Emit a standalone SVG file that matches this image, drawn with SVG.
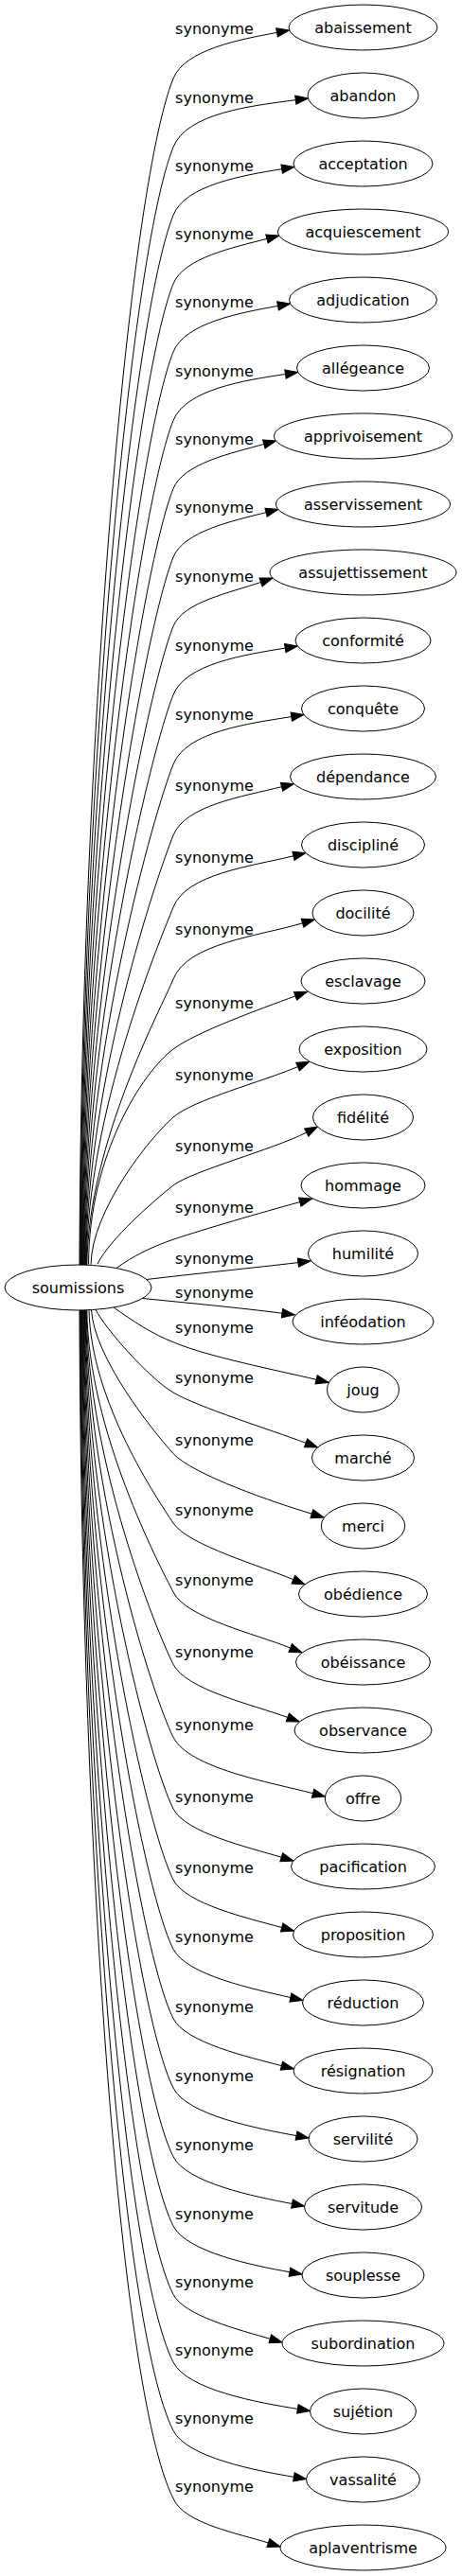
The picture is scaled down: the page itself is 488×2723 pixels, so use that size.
<svg xmlns="http://www.w3.org/2000/svg" width="488" height="2723" viewBox="0 0 488 2723">
<style>
text{font-family:"DejaVu Sans",Verdana,sans-serif;font-size:16px;text-anchor:middle;fill:#000}
.node ellipse{fill:#fff;stroke:#000;stroke-width:1}
.edge path{fill:none;stroke:#000;stroke-width:1;marker-end:url(#ah)}
</style>
<defs>
<marker id="ah" markerUnits="userSpaceOnUse" markerWidth="16" markerHeight="12" refX="0" refY="5" orient="auto" overflow="visible">
<path d="M0,0.33 L13.3,5 L0,9.67 Z" fill="#000" stroke="#000" stroke-width="1"/>
</marker>
</defs>
<rect width="488" height="2723" fill="#fff"/>
<g id="edges">
<g class="edge"><path d="M84,1337 C85.5,797.8 134.6,204 183,83 C195.2,52.6 252.7,41.8 292.5,34.4"/><text x="226.5" y="36">synonyme</text></g>
<g class="edge"><path d="M84.6,1337 C86.1,829 137.4,269.5 183,155.5 C197.4,119.6 264.9,111.9 312.3,105.7"/><text x="226.5" y="108.5">synonyme</text></g>
<g class="edge"><path d="M85.2,1337 C86.7,860 140.2,334.6 183,227.5 C195.7,195.6 255.9,185.5 297.7,178.65"/><text x="226.5" y="180.5">synonyme</text></g>
<g class="edge"><path d="M85.8,1337 C87.3,891.1 143,400.1 183,300 C194,272.5 246.5,261.6 281.9,252.4"/><text x="226.5" y="253">synonyme</text></g>
<g class="edge"><path d="M86.4,1337 C87.9,922 145.8,465.1 183,372 C195.3,341.3 253.2,330.7 293.5,323.4"/><text x="226.5" y="325">synonyme</text></g>
<g class="edge"><path d="M87,1337 C88.5,953.2 148.5,530.6 183,444.5 C196.2,411.6 258.2,402 301.5,395.5"/><text x="226.5" y="397.5">synonyme</text></g>
<g class="edge"><path d="M87.6,1337 C89.1,984.2 151.3,595.7 183,516.5 C193.6,489.9 244.7,478.9 278.8,469.5"/><text x="226.5" y="469.5">synonyme</text></g>
<g class="edge"><path d="M88.2,1337 C89.7,1015.4 154.1,661.2 183,589 C193.9,561.7 245.85,550.5 281.05,541.7"/><text x="226.5" y="542">synonyme</text></g>
<g class="edge"><path d="M88.8,1337 C90.3,1046.7 156.9,727.1 183,662 C193.3,636.3 243.2,626.6 275.5,615.4"/><text x="226.5" y="615">synonyme</text></g>
<g class="edge"><path d="M89.4,1337 C90.9,1078 159.7,792.6 183,734.5 C196.1,701.6 258.1,692.1 301.2,685.1"/><text x="226.5" y="687.5">synonyme</text></g>
<g class="edge"><path d="M90,1337 C91.5,1109.5 162.6,859 183,808 C196.85,773.3 262.2,764.9 307.8,757.6"/><text x="226.5" y="761">synonyme</text></g>
<g class="edge"><path d="M90.6,1337 C92.1,1141.8 165.5,926.8 183,883 C195.7,851.2 256.4,841.9 297.5,831.7"/><text x="226.5" y="836">synonyme</text></g>
<g class="edge"><path d="M91.2,1337 C92.7,1174.5 168.4,995.5 183,959 C197.1,923.7 264.3,915.9 310,904.8"/><text x="226.5" y="912">synonyme</text></g>
<g class="edge"><path d="M91.8,1337 C93.3,1207.1 171.3,1064.1 183,1035 C198.2,997 271.15,990.1 319.55,975.8"/><text x="226.5" y="988">synonyme</text></g>
<g class="edge"><path d="M93.5,1336.5 C94,1220 151,1133 183,1109 C207,1091 274.5,1066.7 312,1052.9"/><text x="226.5" y="1066">synonyme</text></g>
<g class="edge"><path d="M96,1336.8 C97,1280 156.8,1204.1 183,1181 C204,1162.5 277,1143.6 314.5,1127.6"/><text x="226.5" y="1142">synonyme</text></g>
<g class="edge"><path d="M103,1336 C116.5,1309.3 161.2,1270.4 183,1253 C202.5,1238 288.6,1215 323.7,1197.1"/><text x="226.5" y="1216.7">synonyme</text></g>
<g class="edge"><path d="M123,1340.5 C140,1328 160,1318 185,1309.5 C215,1299.5 275,1282 316.8,1270.6"/><text x="226.5" y="1282">synonyme</text></g>
<g class="edge"><path d="M155,1352.5 C200,1347 270,1340 314.9,1334.6"/><text x="226.5" y="1335.5">synonyme</text></g>
<g class="edge"><path d="M151,1372.5 C195,1377 250,1382 298,1388.2"/><text x="226.5" y="1372">synonyme</text></g>
<g class="edge"><path d="M120,1382 C140,1396 160,1410 185,1419.5 C220,1434 290,1448 334.1,1458.3"/><text x="226.5" y="1408.5">synonyme</text></g>
<g class="edge"><path d="M101,1384.3 C111,1404.3 157.2,1456.7 183,1472 C208.8,1487.3 285.6,1511.3 323.05,1525.3"/><text x="226.5" y="1462.3">synonyme</text></g>
<g class="edge"><path d="M96.5,1384.6 C99.5,1434.6 159.6,1510.6 183,1536.5 C203.1,1558.7 291,1588.7 329.3,1600.2"/><text x="226.5" y="1527.5">synonyme</text></g>
<g class="edge"><path d="M94,1384.7 C96,1481.6 166.5,1585 183,1610 C198.4,1633.4 277.6,1655.9 309.8,1669.7"/><text x="226.5" y="1601.7">synonyme</text></g>
<g class="edge"><path d="M91.8,1384.8 C93.3,1513 169,1655.4 183,1683 C196.9,1710.5 270,1727.1 306.7,1742"/><text x="226.5" y="1676">synonyme</text></g>
<g class="edge"><path d="M91.2,1384.8 C92.7,1545.8 165.5,1724.6 183,1759.3 C196.6,1786.2 267.5,1802.1 303.8,1815.4"/><text x="226.5" y="1752.3">synonyme</text></g>
<g class="edge"><path d="M90.6,1384.8 C92.1,1578.9 161.9,1794.5 183,1836.3 C199.6,1869.1 284.8,1883.9 330.5,1895.7"/><text x="226.5" y="1829.3">synonyme</text></g>
<g class="edge"><path d="M90,1384.8 C91.5,1611.5 158.3,1863.2 183,1912 C195.9,1937.4 262.2,1952.7 297.2,1963.2"/><text x="226.5" y="1905">synonyme</text></g>
<g class="edge"><path d="M89.4,1384.8 C90.9,1643.8 154.8,1931.2 183,1987 C195.9,2012.6 262.3,2027.8 297.7,2037.5"/><text x="226.5" y="1980">synonyme</text></g>
<g class="edge"><path d="M88.8,1384.8 C90.3,1675.3 151.4,1997.7 183,2060.3 C196.9,2087.9 268.3,2102.7 306.9,2111.5"/><text x="226.5" y="2053.3">synonyme</text></g>
<g class="edge"><path d="M88.2,1384.8 C89.7,1706.8 148,2064.4 183,2133.7 C195.9,2159.2 262,2174.3 297.4,2183.6"/><text x="226.5" y="2126.7">synonyme</text></g>
<g class="edge"><path d="M87.6,1384.8 C89.1,1738.3 144.5,2130.9 183,2207 C197.6,2235.9 272.1,2250 313,2257.6"/><text x="226.5" y="2200">synonyme</text></g>
<g class="edge"><path d="M87,1384.8 C88.5,1769.6 141.1,2196.8 183,2279.7 C197.1,2307.6 269,2322 308.5,2329.5"/><text x="226.5" y="2272.7">synonyme</text></g>
<g class="edge"><path d="M86.4,1384.8 C87.9,1801.1 137.7,2263.3 183,2353 C196.8,2380.3 267.2,2394.9 306,2401.7"/><text x="226.5" y="2346">synonyme</text></g>
<g class="edge"><path d="M85.8,1384.8 C87.3,1832.2 134.3,2328.9 183,2425.3 C194.5,2448.1 253.9,2463.2 285.3,2472.3"/><text x="226.5" y="2418.3">synonyme</text></g>
<g class="edge"><path d="M85.2,1384.8 C86.7,1863 130.9,2394 183,2497 C197.8,2526.3 272.9,2539.8 314.4,2546.4"/><text x="226.5" y="2490">synonyme</text></g>
<g class="edge"><path d="M84.6,1384.8 C86.1,1894.1 127.6,2459.6 183,2569.3 C197.3,2597.6 270.1,2611.6 310.4,2618.3"/><text x="226.5" y="2562.3">synonyme</text></g>
<g class="edge"><path d="M84,1384.8 C85.5,1925 124.2,2524.7 183,2641 C194.3,2667.8 252.8,2678.2 283.4,2688"/><text x="226.5" y="2634">synonyme</text></g>
</g>
<g id="soumissions" class="node"><ellipse cx="82.5" cy="1361" rx="77.5" ry="24"/><text x="82.5" y="1366.5">soumissions</text></g>
<g id="abaissement" class="node"><ellipse cx="383.5" cy="29" rx="78.5" ry="24"/><text x="383.5" y="34.5">abaissement</text></g>
<g id="abandon" class="node"><ellipse cx="383.5" cy="101" rx="58.5" ry="24"/><text x="383.5" y="106.5">abandon</text></g>
<g id="acceptation" class="node"><ellipse cx="383.5" cy="173" rx="73.5" ry="24"/><text x="383.5" y="178.5">acceptation</text></g>
<g id="acquiescement" class="node"><ellipse cx="383.5" cy="245" rx="90" ry="24"/><text x="383.5" y="250.5">acquiescement</text></g>
<g id="adjudication" class="node"><ellipse cx="383.5" cy="317" rx="78" ry="24"/><text x="383.5" y="322.5">adjudication</text></g>
<g id="allegeance" class="node"><ellipse cx="383.5" cy="389" rx="70" ry="24"/><text x="383.5" y="394.5">allégeance</text></g>
<g id="apprivoisement" class="node"><ellipse cx="383.5" cy="461" rx="94" ry="24"/><text x="383.5" y="466.5">apprivoisement</text></g>
<g id="asservissement" class="node"><ellipse cx="383.5" cy="533" rx="92" ry="24"/><text x="383.5" y="538.5">asservissement</text></g>
<g id="assujettissement" class="node"><ellipse cx="383.5" cy="605" rx="98.5" ry="24"/><text x="383.5" y="610.5">assujettissement</text></g>
<g id="conformite" class="node"><ellipse cx="383.5" cy="677" rx="71.5" ry="24"/><text x="383.5" y="682.5">conformité</text></g>
<g id="conquete" class="node"><ellipse cx="383.5" cy="749" rx="65" ry="24"/><text x="383.5" y="754.5">conquête</text></g>
<g id="dependance" class="node"><ellipse cx="383.5" cy="821" rx="77" ry="24"/><text x="383.5" y="826.5">dépendance</text></g>
<g id="discipline" class="node"><ellipse cx="383.5" cy="893" rx="65" ry="24"/><text x="383.5" y="898.5">discipliné</text></g>
<g id="docilite" class="node"><ellipse cx="383.5" cy="965" rx="53.5" ry="24"/><text x="383.5" y="970.5">docilité</text></g>
<g id="esclavage" class="node"><ellipse cx="383.5" cy="1037" rx="65.5" ry="24"/><text x="383.5" y="1042.5">esclavage</text></g>
<g id="exposition" class="node"><ellipse cx="383.5" cy="1109" rx="67.5" ry="24"/><text x="383.5" y="1114.5">exposition</text></g>
<g id="fidelite" class="node"><ellipse cx="383.5" cy="1181" rx="53" ry="24"/><text x="383.5" y="1186.5">fidélité</text></g>
<g id="hommage" class="node"><ellipse cx="383.5" cy="1253" rx="65.5" ry="24"/><text x="383.5" y="1258.5">hommage</text></g>
<g id="humilite" class="node"><ellipse cx="383.5" cy="1325" rx="58" ry="24"/><text x="383.5" y="1330.5">humilité</text></g>
<g id="infeodation" class="node"><ellipse cx="383.5" cy="1397" rx="74.5" ry="24"/><text x="383.5" y="1402.5">inféodation</text></g>
<g id="joug" class="node"><ellipse cx="383.5" cy="1469" rx="38" ry="24"/><text x="383.5" y="1474.5">joug</text></g>
<g id="marche" class="node"><ellipse cx="383.5" cy="1541" rx="54" ry="24"/><text x="383.5" y="1546.5">marché</text></g>
<g id="merci" class="node"><ellipse cx="383.5" cy="1613" rx="44.2" ry="24"/><text x="383.5" y="1618.5">merci</text></g>
<g id="obedience" class="node"><ellipse cx="383.5" cy="1685" rx="68" ry="24"/><text x="383.5" y="1690.5">obédience</text></g>
<g id="obeissance" class="node"><ellipse cx="383.5" cy="1757" rx="71" ry="24"/><text x="383.5" y="1762.5">obéissance</text></g>
<g id="observance" class="node"><ellipse cx="383.5" cy="1829" rx="72.5" ry="24"/><text x="383.5" y="1834.5">observance</text></g>
<g id="offre" class="node"><ellipse cx="383.5" cy="1901" rx="40.2" ry="24"/><text x="383.5" y="1906.5">offre</text></g>
<g id="pacification" class="node"><ellipse cx="383.5" cy="1973" rx="76" ry="24"/><text x="383.5" y="1978.5">pacification</text></g>
<g id="proposition" class="node"><ellipse cx="383.5" cy="2045" rx="74" ry="24"/><text x="383.5" y="2050.5">proposition</text></g>
<g id="reduction" class="node"><ellipse cx="383.5" cy="2117" rx="64" ry="24"/><text x="383.5" y="2122.5">réduction</text></g>
<g id="resignation" class="node"><ellipse cx="383.5" cy="2189" rx="73.5" ry="24"/><text x="383.5" y="2194.5">résignation</text></g>
<g id="servilite" class="node"><ellipse cx="383.5" cy="2261" rx="57.5" ry="24"/><text x="383.5" y="2266.5">servilité</text></g>
<g id="servitude" class="node"><ellipse cx="383.5" cy="2333" rx="62" ry="24"/><text x="383.5" y="2338.5">servitude</text></g>
<g id="souplesse" class="node"><ellipse cx="383.5" cy="2405" rx="64.5" ry="24"/><text x="383.5" y="2410.5">souplesse</text></g>
<g id="subordination" class="node"><ellipse cx="383.5" cy="2477" rx="85.5" ry="24"/><text x="383.5" y="2482.5">subordination</text></g>
<g id="sujetion" class="node"><ellipse cx="383.5" cy="2549" rx="56" ry="24"/><text x="383.5" y="2554.5">sujétion</text></g>
<g id="vassalite" class="node"><ellipse cx="383.5" cy="2621" rx="60" ry="24"/><text x="383.5" y="2626.5">vassalité</text></g>
<g id="aplaventrisme" class="node"><ellipse cx="383.5" cy="2693" rx="87.5" ry="24"/><text x="383.5" y="2698.5">aplaventrisme</text></g>
</svg>
